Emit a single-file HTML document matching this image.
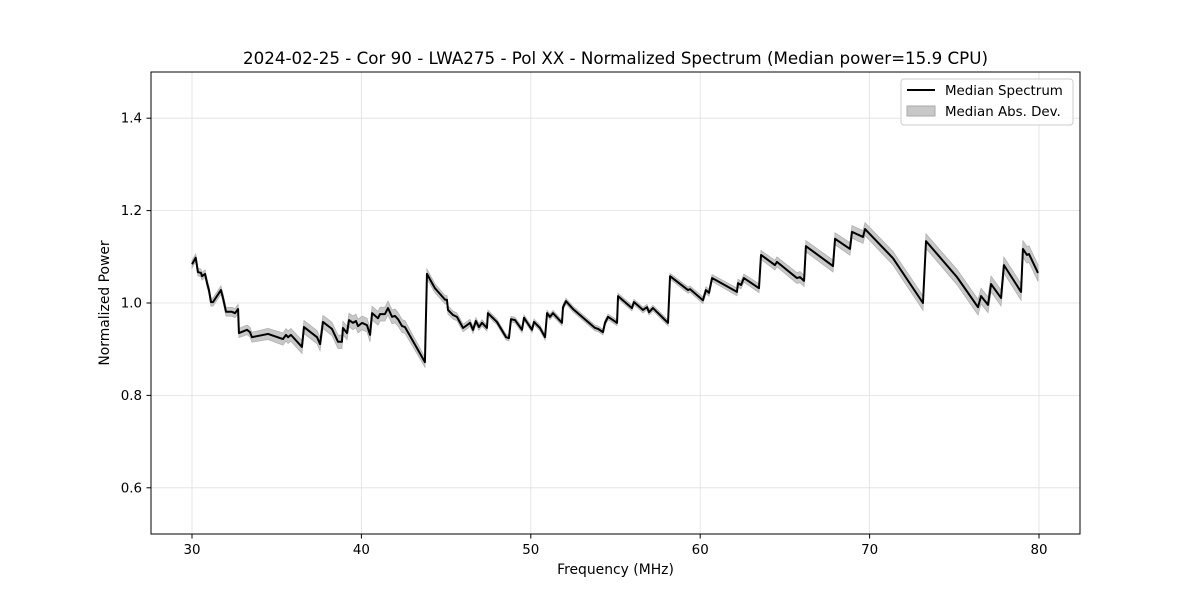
<!DOCTYPE html>
<html><head><meta charset="utf-8"><style>
body{margin:0;background:#fff;}
svg text{font-family:"DejaVu Sans","Liberation Sans",sans-serif;fill:#000;}
</style></head><body>
<svg id="chart" width="1200" height="600" xmlns="http://www.w3.org/2000/svg">
<rect width="1200" height="600" fill="#fff"/>
<text x="615.5" y="64" text-anchor="middle" font-size="16.7">2024-02-25 - Cor 90 - LWA275 - Pol XX - Normalized Spectrum (Median power=15.9 CPU)</text>
<g id="grid"></g><g id="band"></g><g id="line"></g><g id="ticks"></g>
<rect x="151" y="72" width="929" height="462" fill="none" stroke="#000" stroke-width="1"/>
<text x="615.5" y="574" text-anchor="middle" font-size="13.9">Frequency (MHz)</text>
<text transform="translate(109,303) rotate(-90)" text-anchor="middle" font-size="13.9">Normalized Power</text>
<g>
<rect x="901" y="79" width="172" height="46" rx="3" fill="#fff" fill-opacity="0.8" stroke="#ccc"/>
<line x1="907" y1="90" x2="935" y2="90" stroke="#000" stroke-width="2"/>
<text x="945" y="95" font-size="13.4">Median Spectrum</text>
<rect x="907" y="106" width="28" height="10" fill="#c8c8c8" stroke="#aaa"/>
<text x="945" y="116" font-size="13.4">Median Abs. Dev.</text>
</g>
</svg>
<script>
const freq=[30.00,30.22,30.35,30.53,30.59,30.77,30.89,31.00,31.12,31.24,31.71,31.83,32.01,32.36,32.54,32.72,32.77,33.25,33.42,33.54,34.49,35.37,35.55,35.67,35.84,36.49,36.61,37.38,37.56,37.73,38.26,38.62,38.85,38.91,39.15,39.27,39.50,39.68,39.80,40.04,40.33,40.51,40.63,40.98,41.10,41.39,41.57,41.81,41.98,42.16,42.40,42.57,43.75,43.87,44.34,44.94,45.05,45.11,45.41,45.64,46.00,46.23,46.41,46.59,46.76,46.94,47.12,47.41,47.47,48.00,48.54,48.71,48.83,49.07,49.48,49.60,50.07,50.19,50.54,50.84,50.96,51.13,51.31,51.84,51.90,52.08,52.49,53.79,53.97,54.26,54.38,54.56,54.85,55.09,55.15,55.97,56.09,56.62,56.86,56.98,57.21,58.10,58.22,59.28,59.40,60.16,60.34,60.52,60.70,62.17,62.23,62.41,62.58,63.47,63.59,64.41,64.53,65.71,65.89,66.13,66.24,67.84,67.96,68.84,68.96,69.61,69.73,71.38,73.15,73.33,75.16,76.40,76.58,76.99,77.17,77.76,77.93,78.94,79.05,79.29,79.41,79.94];
const power=[1.084,1.098,1.067,1.065,1.058,1.063,1.043,1.028,1.002,1.002,1.028,1.011,0.981,0.981,0.978,0.987,0.935,0.942,0.937,0.926,0.933,0.922,0.931,0.926,0.931,0.905,0.948,0.926,0.911,0.959,0.944,0.916,0.916,0.946,0.935,0.963,0.957,0.961,0.950,0.957,0.952,0.931,0.978,0.967,0.976,0.976,0.989,0.970,0.972,0.965,0.950,0.948,0.872,1.063,1.032,1.007,1.007,0.985,0.974,0.970,0.946,0.952,0.957,0.942,0.961,0.948,0.957,0.946,0.978,0.959,0.926,0.924,0.965,0.963,0.942,0.968,0.942,0.959,0.946,0.926,0.978,0.970,0.978,0.957,0.991,1.004,0.987,0.946,0.944,0.937,0.957,0.970,0.963,0.957,1.015,0.989,1.002,0.985,0.991,0.980,0.989,0.957,1.058,1.028,1.030,1.006,1.028,1.022,1.054,1.024,1.043,1.039,1.054,1.032,1.104,1.082,1.089,1.054,1.056,1.048,1.123,1.080,1.139,1.117,1.154,1.143,1.160,1.097,1.000,1.134,1.056,0.991,1.015,0.996,1.041,1.011,1.082,1.024,1.117,1.104,1.106,1.065];
const devFreq=[30,33,36,42,44,48,58,62,66,70,74,80];
const devVal=[0.008,0.010,0.014,0.015,0.010,0.006,0.006,0.008,0.012,0.014,0.016,0.018];
const xTicks=[30,40,50,60,70,80];
const yTicks=[0.6,0.8,1.0,1.2,1.4];
const yTickLabels=["0.6","0.8","1.0","1.2","1.4"];

const NS="http://www.w3.org/2000/svg";
const X=f=>192+(f-30)*(1039-192)/50;
const Y=v=>534-(v-0.5)*462;
function dev(f){for(let i=0;i<devFreq.length-1;i++){if(f<=devFreq[i+1]){const t=(f-devFreq[i])/(devFreq[i+1]-devFreq[i]);return devVal[i]+t*(devVal[i+1]-devVal[i]);}}return devVal[devVal.length-1];}
function mk(tag,attrs,parent){const e=document.createElementNS(NS,tag);for(const k in attrs)e.setAttribute(k,attrs[k]);document.getElementById(parent).appendChild(e);return e;}
xTicks.forEach(t=>{
 const g=mk('line',{x1:X(t),x2:X(t),y1:72,y2:534,stroke:'#e0e0e0','stroke-width':0.8},'grid');
 
 
 const tk=mk('line',{x1:X(t),x2:X(t),y1:534,y2:538.5,stroke:'#000'},'ticks');
 
 
 const tx=mk('text',{x:X(t),y:554,'text-anchor':'middle','font-size':13.4},'ticks');
 
 
 tx.textContent=t;
});
yTicks.forEach((t,i)=>{
 const g=mk('line',{x1:151,x2:1080,y1:Y(t),y2:Y(t),stroke:'#e0e0e0','stroke-width':0.8},'grid');
 
 
 const tk=mk('line',{x1:146.5,x2:151,y1:Y(t),y2:Y(t),stroke:'#000'},'ticks');
 
 
 const tx=mk('text',{x:142,y:Y(t)+4.5,'text-anchor':'end','font-size':13.4},'ticks');
 
 
 tx.textContent=yTickLabels[i];
});
let up=[],dn=[],ln=[];
freq.forEach((f,i)=>{const d=dev(f);up.push(X(f)+','+Y(power[i]+d));dn.unshift(X(f)+','+Y(power[i]-d));ln.push(X(f)+','+Y(power[i]));});
const band=mk('polygon',{points:up.concat(dn).join(' '),fill:'#c8c8c8',stroke:'#b0b0b0','stroke-width':0.8},'band');


const line=mk('polyline',{points:ln.join(' '),fill:'none',stroke:'#000','stroke-width':2,'stroke-linejoin':'round'},'line');


</script>
</body></html>
